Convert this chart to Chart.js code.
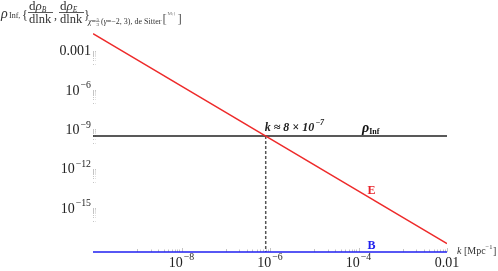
<!DOCTYPE html>
<html>
<head>
<meta charset="utf-8">
<script src="https://cdn.jsdelivr.net/npm/chart.js@4.4.0/dist/chart.umd.min.js"></script>
<style>
body{margin:0;background:#fff;}
#wrap{width:498px;height:271px;position:relative;}
</style>
</head>
<body>
<div id="wrap"><canvas id="chart"></canvas></div>
<script>
// data
var kRange = [1e-10, 1e-2];
var eValues = [2e-2, 2e-18];
var rhoInfValues = [3.2e-10, 3.2e-10];
var bValues = [4.6e-19, 4.6e-19];
var kCross = 8e-7;
var yRange = [4.6e-19, 3.16e-2];

var xTickExps = [-8, -6, -4, -2];
var xTickLabels = [["10", "\u22128"], ["10", "\u22126"], ["10", "\u22124"], ["0.01", ""]];
var yTickExps = [-3, -6, -9, -12, -15];
var yTickLabels = [["0.001", ""], ["10", "\u22126"], ["10", "\u22129"], ["10", "\u221212"], ["10", "\u221215"]];

var SERIF = '"Liberation Serif", "DejaVu Serif", serif';

function pts(xs, ys){
    var out = [];
    for(var i = 0; i < xs.length; i++){
        out.push({x: xs[i], y: ys[i]});
    }
    return out;
}

function labelWithSup(ctx, base, sup, x, y, align, size){
    ctx.font = size + "px " + SERIF;
    var w1 = ctx.measureText(base).width;
    var small = (size * 0.7) + "px " + SERIF;
    ctx.font = small;
    var w2 = sup ? ctx.measureText(sup).width + 1 : 0;
    var total = w1 + w2;
    var x0 = x;
    if(align == "right") x0 = x - total;
    if(align == "center") x0 = x - total / 2;
    ctx.textAlign = "left";
    ctx.textBaseline = "middle";
    ctx.font = size + "px " + SERIF;
    ctx.fillText(base, x0, y);
    if(sup){
        ctx.font = small;
        ctx.fillText(sup, x0 + w1 + 1, y - size * 0.38);
    }
}

function txt(ctx, s, x, y, font, color){
    ctx.font = font;
    ctx.fillStyle = color || "#222";
    ctx.textAlign = "left";
    ctx.textBaseline = "alphabetic";
    ctx.fillText(s, x, y);
    return ctx.measureText(s).width;
}

var mmaAxes = {
    id: "mmaAxes",
    beforeDatasetsDraw: function(chart){
        var ctx = chart.ctx;
        var xs = chart.scales.x, ys = chart.scales.y;
        var area = chart.chartArea;
        ctx.save();
        ctx.strokeStyle = "#c4c4c4";
        ctx.lineWidth = 1;
        // x ticks, pointing up from the axis
        xTickExps.forEach(function(e){
            for(var m = 1; m <= 9; m++){
                var v = m * Math.pow(10, e - 1);
                var px = Math.round(xs.getPixelForValue(v)) + 0.5;
                ctx.beginPath();
                ctx.moveTo(px, area.bottom);
                ctx.lineTo(px, area.bottom - (m == 1 ? 3 : 2.5));
                ctx.stroke();
            }
            var pm = Math.round(xs.getPixelForValue(Math.pow(10, e))) + 0.5;
            ctx.beginPath();
            ctx.moveTo(pm, area.bottom);
            ctx.lineTo(pm, area.bottom - 4);
            ctx.stroke();
        });
        // y ticks, pointing right from the axis
        ctx.setLineDash([1, 1]);
        yTickExps.forEach(function(e){
            for(var m = 1; m <= 9; m++){
                var v = m * Math.pow(10, e - 1);
                var py = Math.round(ys.getPixelForValue(v)) + 0.5;
                ctx.beginPath();
                ctx.moveTo(area.left, py);
                ctx.lineTo(area.left + 2.5, py);
                ctx.stroke();
            }
            var pm = Math.round(ys.getPixelForValue(Math.pow(10, e))) + 0.5;
            ctx.beginPath();
            ctx.moveTo(area.left, pm);
            ctx.lineTo(area.left + 4, pm);
            ctx.stroke();
        });
        ctx.restore();
    },
    afterDraw: function(chart){
        var ctx = chart.ctx;
        var xs = chart.scales.x, ys = chart.scales.y;
        var area = chart.chartArea;
        ctx.save();
        ctx.fillStyle = "#222";
        xTickExps.forEach(function(e, i){
            labelWithSup(ctx, xTickLabels[i][0], xTickLabels[i][1], xs.getPixelForValue(Math.pow(10, e)), area.bottom + 11, "center", 14);
        });
        yTickExps.forEach(function(e, i){
            labelWithSup(ctx, yTickLabels[i][0], yTickLabels[i][1], area.left - 2, ys.getPixelForValue(Math.pow(10, e)) + 1, "right", 14);
        });

        // x axis label
        var x0 = area.right + 10;
        var w = txt(ctx, "k", x0, 254, "italic 10px " + SERIF, "#333");
        w += txt(ctx, " [Mpc", x0 + w, 254, "10px " + SERIF, "#333");
        w += txt(ctx, "\u22121", x0 + w, 249, "6.5px " + SERIF, "#333");
        txt(ctx, "]", x0 + w + 0.5, 254, "10px " + SERIF, "#333");

        // title / y label
        var c = "#333";
        txt(ctx, "\u03c1", 1, 18, "italic 14px " + SERIF, c);
        txt(ctx, "Inf,", 9, 18, "8px " + SERIF, c);
        txt(ctx, "{", 22, 19, "12px " + SERIF, c);
        [[28, "B"], [59, "E"]].forEach(function(f){
            var fx = f[0];
            var ww = txt(ctx, "d", fx + 1, 10, "13px " + SERIF, c);
            ww += txt(ctx, "\u03c1", fx + 1 + ww, 10, "italic 13px " + SERIF, c);
            txt(ctx, f[1], fx + 1 + ww, 12, "italic 7.5px " + SERIF, c);
            ctx.fillStyle = c;
            ctx.fillRect(fx, 12, 25, 0.8);
            txt(ctx, "dlnk", fx + 1, 22.5, "12.5px " + SERIF, c);
        });
        txt(ctx, ",", 54, 19, "12px " + SERIF, c);
        txt(ctx, "}", 84, 19, "12px " + SERIF, c);
        var sx = 88;
        sx += txt(ctx, "\u03c7", sx, 24, "italic 8px " + SERIF, c);
        sx += txt(ctx, "=", sx, 24, "8px " + SERIF, c);
        txt(ctx, "5", sx + 0.5, 20.5, "5px " + SERIF, c);
        ctx.fillRect(sx, 21.5, 3.5, 0.5);
        txt(ctx, "3", sx + 0.5, 26, "5px " + SERIF, c);
        sx += 5;
        sx += txt(ctx, "(", sx, 24, "8px " + SERIF, c);
        sx += txt(ctx, "\u03b3", sx, 24, "italic 8px " + SERIF, c);
        sx += txt(ctx, "=\u22122, 3), de Sitter", sx, 24, "8px " + SERIF, c);
        txt(ctx, "[", sx + 1, 23, "13px " + SERIF, "#555");
        txt(ctx, "M;{", sx + 6, 15, "5px " + SERIF, "#777");
        txt(ctx, "]", sx + 16, 23, "13px " + SERIF, "#555");

        // annotations
        var cx = xs.getPixelForValue(kCross);
        var cy = ys.getPixelForValue(rhoInfValues[0]);
        var ax = cx - 1;
        ax += txt(ctx, "k", ax, cy - 5, "bold italic 12px " + SERIF, "#222");
        ax += txt(ctx, " \u2248 8 \u00d7 10", ax, cy - 5, "bold italic 12px " + SERIF, "#222");
        txt(ctx, "\u22127", ax + 1, cy - 11, "bold italic 8px " + SERIF, "#222");

        var rx = xs.getPixelForValue(1.2e-4);
        var rw = txt(ctx, "\u03c1", rx, cy - 4, "bold italic 14px " + SERIF, "#111");
        txt(ctx, "Inf", rx + rw, cy - 2, "bold 8px " + SERIF, "#111");

        txt(ctx, "E", xs.getPixelForValue(1.6e-4), ys.getPixelForValue(1.3e-14), "bold 12px " + SERIF, "#e8232a");
        txt(ctx, "B", xs.getPixelForValue(1.6e-4), area.bottom - 3, "bold 12px " + SERIF, "#2020ee");
        ctx.restore();
    }
};

var chart = new Chart(document.getElementById("chart"), {
    type: "line",
    data: {
        datasets: [
            {
                label: "B",
                data: pts(kRange, bValues),
                borderColor: "#1f1ff0",
                borderWidth: 1.5,
                pointRadius: 0,
                clip: false
            },
            {
                label: "E",
                data: pts(kRange, eValues),
                borderColor: "#ee2a2a",
                borderWidth: 1.4,
                pointRadius: 0
            },
            {
                label: "rhoInf",
                data: pts(kRange, rhoInfValues),
                borderColor: "#222",
                borderWidth: 1.5,
                pointRadius: 0
            },
            {
                label: "cross",
                data: pts([kCross, kCross], [rhoInfValues[0], yRange[0]]),
                borderColor: "#555",
                borderWidth: 1.5,
                borderDash: [3, 2],
                pointRadius: 0
            }
        ]
    },
    options: {
        responsive: true,
        maintainAspectRatio: false,
        animation: false,
        layout: {padding: {left: 93, right: 51, top: 31, bottom: 19}},
        plugins: {legend: {display: false}, tooltip: {enabled: false}},
        scales: {
            x: {type: "logarithmic", min: kRange[0], max: kRange[1], bounds: "data", display: false},
            y: {type: "logarithmic", min: yRange[0], max: yRange[1], bounds: "data", display: false}
        }
    },
    plugins: [mmaAxes]
});
</script>
</body>
</html>
